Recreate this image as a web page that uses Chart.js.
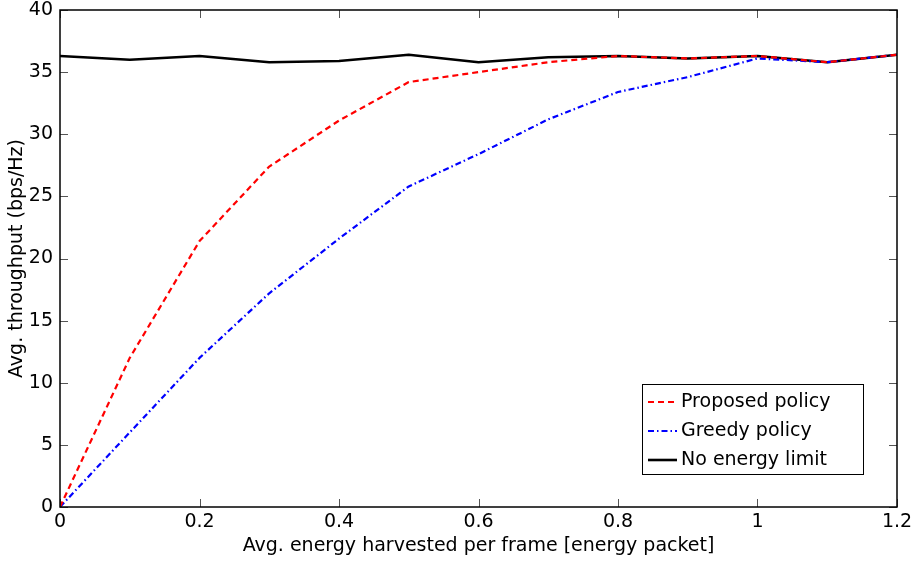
<!DOCTYPE html>
<html>
<head>
<meta charset="utf-8">
<script src="https://cdn.jsdelivr.net/npm/chart.js@4/dist/chart.umd.min.js"></script>
<style>
  html, body { margin: 0; padding: 0; background: #fff; }
  #wrap { width: 914px; height: 561px; }
</style>
</head>
<body>
<div id="wrap"><canvas id="throughputChart" width="914" height="561"></canvas></div>
<script>
// avg. harvested energy per frame [energy packet]
var energy = [0, 0.1, 0.2, 0.3, 0.4, 0.5, 0.6, 0.7, 0.8, 0.9, 1.0, 1.1, 1.2];

// avg. throughput (bps/Hz)
var proposed = [0, 12.0, 21.4, 27.4, 31.1, 34.2, 35.0, 35.8, 36.3, 36.1, 36.3, 35.8, 36.4];
var greedy   = [0, 6.0, 12.0, 17.2, 21.6, 25.8, 28.4, 31.2, 33.4, 34.6, 36.1, 35.8, 36.4];
var noLimit  = [36.3, 36.0, 36.3, 35.8, 35.9, 36.4, 35.8, 36.2, 36.3, 36.1, 36.3, 35.8, 36.4];

var seriesNames = ['Proposed policy', 'Greedy policy', 'No energy limit'];

var FONT = 'DejaVu Sans, sans-serif';
var FONT_SIZE = 19;

function toPoints(values) {
    return values.map((v, i) => ({ x: energy[i], y: v }));
}

// box around the plot area with matlab style inward ticks on every side
var frameBox = {
    id: 'frameBox',
    afterDatasetsDraw(chart) {
        var ctx = chart.ctx;
        var a = chart.chartArea;
        var xs = chart.scales.x, ys = chart.scales.y;
        var tl = 8;
        ctx.save();
        ctx.lineWidth = 1;
        ctx.strokeStyle = '#555';
        ctx.beginPath();
        xs.ticks.forEach((t) => {
            var px = Math.round(xs.getPixelForValue(t.value)) + 0.5;
            ctx.moveTo(px, a.bottom); ctx.lineTo(px, a.bottom - tl);
            ctx.moveTo(px, a.top); ctx.lineTo(px, a.top + tl);
        });
        ys.ticks.forEach((t) => {
            var py = Math.round(ys.getPixelForValue(t.value)) + 0.5;
            ctx.moveTo(a.left, py); ctx.lineTo(a.left + tl, py);
            ctx.moveTo(a.right, py); ctx.lineTo(a.right - tl, py);
        });
        ctx.stroke();
        ctx.strokeStyle = '#000';
        ctx.lineWidth = 1.5;
        ctx.strokeRect(a.left, a.top, a.right - a.left, a.bottom - a.top);
        ctx.restore();
    }
};

// legend in the lower right corner of the plot area
var insideLegend = {
    id: 'insideLegend',
    afterDraw(chart) {
        var ctx = chart.ctx;
        var x0 = 642, y0 = 384, w = 221, h = 90;
        ctx.save();
        ctx.fillStyle = '#fff';
        ctx.fillRect(x0, y0, w, h);
        ctx.strokeStyle = '#000';
        ctx.lineWidth = 1;
        ctx.strokeRect(x0 + 0.5, y0 + 0.5, w, h);
        ctx.font = FONT_SIZE + 'px ' + FONT;
        ctx.textBaseline = 'middle';
        chart.data.datasets.forEach((ds, i) => {
            var y = y0 + 18 + i * 29;
            ctx.strokeStyle = ds.borderColor;
            ctx.lineWidth = ds.borderWidth;
            ctx.setLineDash(ds.borderDash || []);
            ctx.beginPath();
            ctx.moveTo(x0 + 6, y);
            ctx.lineTo(x0 + 35, y);
            ctx.stroke();
            ctx.setLineDash([]);
            ctx.fillStyle = '#000';
            ctx.fillText(ds.label, x0 + 39, y);
        });
        ctx.restore();
    }
};

var ctx = document.getElementById('throughputChart').getContext('2d');
var chart = new Chart(ctx, {
    type: 'line',
    data: {
        datasets: [{
            label: seriesNames[0],
            data: toPoints(proposed),
            borderColor: '#ff0000',
            borderWidth: 2.2,
            borderDash: [6, 4]
        }, {
            label: seriesNames[1],
            data: toPoints(greedy),
            borderColor: '#0000ff',
            borderWidth: 2.2,
            borderDash: [6, 3, 1.5, 3]
        }, {
            label: seriesNames[2],
            data: toPoints(noLimit),
            borderColor: '#000000',
            borderWidth: 2.6
        }]
    },
    options: {
        responsive: false,
        animation: false,
        layout: { padding: { top: 10, right: 17, left: 0, bottom: 0 } },
        elements: {
            point: { radius: 0 },
            line: { tension: 0, fill: false, borderJoinStyle: 'round' }
        },
        plugins: {
            legend: { display: false },
            tooltip: { enabled: false }
        },
        scales: {
            x: {
                type: 'linear',
                min: 0,
                max: 1.2,
                grid: { display: false, tickLength: 0 },
                border: { display: false },
                ticks: {
                    stepSize: 0.2,
                    color: '#000',
                    padding: 4,
                    maxRotation: 0,
                    font: { family: FONT, size: FONT_SIZE },
                    callback: (v) => String(+v.toFixed(1))
                },
                title: {
                    display: true,
                    text: 'Avg. energy harvested per frame [energy packet]',
                    color: '#000',
                    padding: { top: 0, bottom: 4 },
                    font: { family: FONT, size: FONT_SIZE }
                },
                afterFit: (scale) => {
                    scale.height = 54;
                    scale.paddingLeft = 0;
                    scale.paddingRight = 0;
                }
            },
            y: {
                min: 0,
                max: 40,
                grid: { display: false, tickLength: 0 },
                border: { display: false },
                ticks: {
                    stepSize: 5,
                    color: '#000',
                    padding: 7,
                    font: { family: FONT, size: FONT_SIZE }
                },
                title: {
                    display: true,
                    text: 'Avg. throughput (bps/Hz)',
                    color: '#000',
                    padding: { top: 6, bottom: 0 },
                    font: { family: FONT, size: FONT_SIZE }
                },
                afterFit: (scale) => {
                    scale.width = 60;
                    scale.paddingTop = 0;
                    scale.paddingBottom = 0;
                }
            }
        }
    },
    plugins: [frameBox, insideLegend]
});
</script>
</body>
</html>
